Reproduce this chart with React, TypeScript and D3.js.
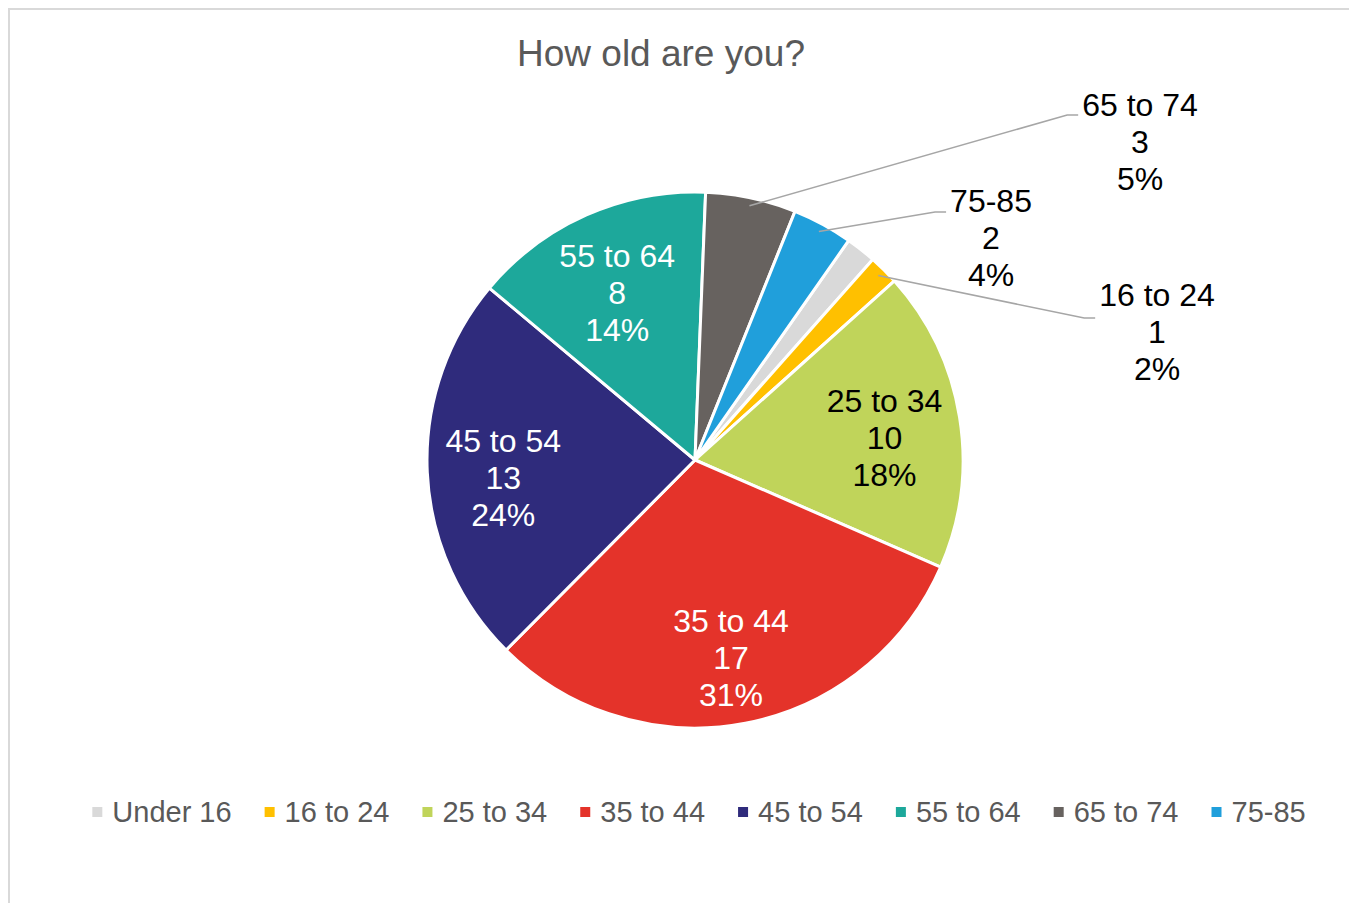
import React from "react";
import * as d3 from "d3";

// ---- data ----
const CATEGORIES = ["Under 16", "16 to 24", "25 to 34", "35 to 44", "45 to 54", "55 to 64", "65 to 74", "75-85"];
const COUNTS = [1, 1, 10, 17, 13, 8, 3, 2];
const COLORS = ["#D9D9D9", "#FFC000", "#C0D45A", "#E4332A", "#2F2B7C", "#1DA89B", "#67625F", "#209FDB"];
const LABEL_COLORS = ["#000000", "#000000", "#000000", "#FFFFFF", "#FFFFFF", "#FFFFFF", "#000000", "#000000"];
// label mode: none, inside or outside (with leader line)
const LABEL_MODE = ["none", "outside", "inside", "inside", "inside", "inside", "outside", "outside"];
const TITLE = "How old are you?";

// ---- layout ----
const W = 1349;
const H = 903;
const CX = 695;
const CY = 460;
const R = 268;
const START_DEG = 35;
const INSIDE_LABEL_R = 192;
const INSIDE_LABEL_DY = 9;
const LINE_H = 37;
const FONT = "'Liberation Sans', Arial, Helvetica, sans-serif";
const LABEL_FS = 32;
const LEGEND_FS = 29;
const TITLE_FS = 37;
// outside label anchors (centre of middle text line) and leader y relative to it
const OUTSIDE_POS: Record<string, { x: number; y: number; leaderDy: number }> = {
  "65 to 74": { x: 1140, y: 142, leaderDy: -27 },
  "75-85": { x: 991, y: 238, leaderDy: -26 },
  "16 to 24": { x: 1157, y: 332, leaderDy: -14 },
};

function measure(text: string, fs: number): number {
  const c = document.createElement("canvas").getContext("2d");
  if (!c) return text.length * fs * 0.55;
  c.font = `${fs}px 'Liberation Sans', Arial, sans-serif`;
  return c.measureText(text).width;
}

// percentages rounded to sum to 100 (largest remainder)
function roundedPercents(vals: number[]): number[] {
  const total = d3.sum(vals);
  const exact = vals.map((v) => (v / total) * 100);
  const floors = exact.map((e) => Math.floor(e));
  let rest = 100 - d3.sum(floors);
  const order = exact
    .map((e, i) => ({ i, rem: e - Math.floor(e) }))
    .sort((a, b) => b.rem - a.rem || a.i - b.i);
  const out = floors.slice();
  for (const o of order) {
    if (rest <= 0) break;
    out[o.i] += 1;
    rest -= 1;
  }
  return out;
}

export default function App() {
  const start = (START_DEG * Math.PI) / 180;
  const pie = d3
    .pie<number>()
    .sort(null)
    .value((d) => d)
    .startAngle(start)
    .endAngle(start + 2 * Math.PI);
  const arcs = pie(COUNTS);
  const arcGen = d3.arc<d3.PieArcDatum<number>>().innerRadius(0).outerRadius(R);
  const labelArc = d3.arc<d3.PieArcDatum<number>>().innerRadius(INSIDE_LABEL_R).outerRadius(INSIDE_LABEL_R);
  const pcts = roundedPercents(COUNTS);

  const polar = (a: number, r: number) => [CX + r * Math.sin(a), CY - r * Math.cos(a)];

  // legend layout
  const sq = 10;
  const textGap = 20;
  const itemGap = 33;
  const widths = CATEGORIES.map((c) => measure(c, LEGEND_FS));
  const itemW = widths.map((w) => textGap + w);
  const totalW = d3.sum(itemW) + itemGap * (CATEGORIES.length - 1);
  const legendCenter = 699;
  const legendY = 812;
  let lx = legendCenter - totalW / 2;
  const legendX = itemW.map((w) => {
    const x = lx;
    lx += w + itemGap;
    return x;
  });

  return (
    <svg
      width={W}
      height={H}
      style={{ position: "absolute", left: 0, top: 0, display: "block", background: "#fff" }}
      fontFamily={FONT}
    >
      <rect x={9} y={9} width={W + 20} height={H + 20} fill="#fff" stroke="#D9D9D9" strokeWidth={2} />
      <text x={661} y={53} textAnchor="middle" dominantBaseline="central" fontSize={TITLE_FS} fill="#595959">
        {TITLE}
      </text>

      <g>
        {arcs.map((a, i) => (
          <path
            key={CATEGORIES[i]}
            d={arcGen(a) || ""}
            transform={`translate(${CX},${CY})`}
            fill={COLORS[i]}
            stroke="#fff"
            strokeWidth={3}
            strokeLinejoin="round"
          />
        ))}
      </g>

      {arcs.map((a, i) => {
        const mode = LABEL_MODE[i];
        if (mode === "none") return null;
        const lines = [CATEGORIES[i], String(COUNTS[i]), `${pcts[i]}%`];
        if (mode === "inside") {
          const [x, y] = labelArc.centroid(a);
          return (
            <text
              key={"l" + i}
              textAnchor="middle"
              fontSize={LABEL_FS}
              fill={LABEL_COLORS[i]}
              dominantBaseline="central"
            >
              {lines.map((t, k) => (
                <tspan key={k} x={CX + x} y={CY + y + INSIDE_LABEL_DY + (k - 1) * LINE_H}>
                  {t}
                </tspan>
              ))}
            </text>
          );
        }
        const pos = OUTSIDE_POS[CATEGORIES[i]];
        const mid = (a.startAngle + a.endAngle) / 2;
        const [sx, sy] = polar(mid, R - 8);
        const firstW = measure(lines[0], LABEL_FS);
        const endX = pos.x - firstW / 2 - 4;
        const ly = pos.y + pos.leaderDy;
        const elbowX = endX - 11;
        return (
          <g key={"l" + i}>
            <polyline
              points={`${sx},${sy} ${elbowX},${ly} ${endX},${ly}`}
              fill="none"
              stroke="#A6A6A6"
              strokeWidth={1.5}
            />
            <text textAnchor="middle" fontSize={LABEL_FS} fill={LABEL_COLORS[i]} dominantBaseline="central">
              {lines.map((t, k) => (
                <tspan key={k} x={pos.x} y={pos.y + (k - 1) * LINE_H}>
                  {t}
                </tspan>
              ))}
            </text>
          </g>
        );
      })}

      <g>
        {CATEGORIES.map((c, i) => (
          <g key={"lg" + i}>
            <rect x={legendX[i]} y={legendY - sq / 2} width={sq} height={sq} fill={COLORS[i]} />
            <text
              x={legendX[i] + textGap}
              y={legendY}
              dominantBaseline="central"
              fontSize={LEGEND_FS}
              fill="#595959"
            >
              {c}
            </text>
          </g>
        ))}
      </g>
    </svg>
  );
}
